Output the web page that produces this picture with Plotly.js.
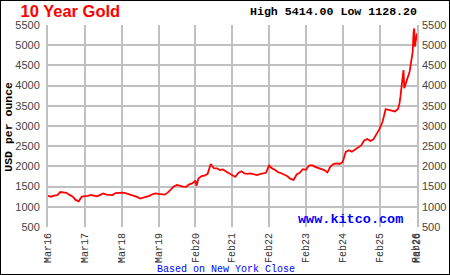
<!DOCTYPE html>
<html>
<head>
<meta charset="utf-8">
<script src="https://cdn.plot.ly/plotly-3.0.1.min.js"></script>
<style>
html,body{margin:0;padding:0;background:#fff;}
#chart{width:450px;height:275px;box-sizing:border-box;border:1px solid #000;}
</style>
</head>
<body>
<div id="chart"></div>
<script>
// Month index since Mar 2016 (0 = Mar16, 120 = Mar26)
const months = [0,1,2,3,4,5,6,7,8,9,10,11,12,13,14,15,16,17,18,19,20,21,22,23,24,25,26,27,28,29,30,31,32,33,34,35,36,37,38,39,40,41,42,43,44,45,46,47,48,48.4,49,50,51,52,53,54,55,56,57,58,59,60,61,62,63,64,65,66,67,68,69,70,71,72,73,74,75,76,77,78,79,80,81,82,83,84,85,86,87,88,89,90,91,92,93,94,95,96,97,98,99,100,101,102,103,104,105,106,107,108,109,110,111,112,113,114,114.5,114.8,115.3,115.8,116.05,116.6,117.1,117.8,118.4,118.8,119.1,119.3,119.5,119.9,120.2];
// Gold price, USD per ounce
const prices = [1270,1250,1275,1290,1365,1355,1345,1295,1255,1170,1135,1250,1255,1270,1292,1285,1260,1295,1330,1300,1292,1290,1340,1352,1350,1345,1320,1300,1280,1245,1205,1225,1250,1270,1310,1330,1318,1300,1300,1350,1440,1505,1540,1515,1499,1495,1555,1578,1650,1520,1700,1760,1770,1815,2060,1955,1953,1911,1925,1875,1825,1770,1740,1840,1880,1825,1815,1828,1812,1787,1810,1825,1842,2020,1950,1911,1855,1830,1795,1755,1690,1665,1800,1840,1930,1915,2020,2030,1990,1965,1945,1910,1850,1993,2058,2075,2060,2110,2360,2400,2365,2420,2480,2520,2640,2680,2630,2670,2800,2930,3110,3420,3396,3380,3360,3420,3560,3725,4015,4386,3933,4097,4180,4345,4592,4840,5333,5414,4963,5128,5293];
const tickPos = [0,12,24,36,48,60,72,84,96,108,119.95,120];
const tickLabels = ['Mar16','Mar17','Mar18','Mar19','Feb20','Feb21','Feb22','Feb23','Feb24','Feb25','Feb26','Mar26'];
const yTicks = [500,1000,1500,2000,2500,3000,3500,4000,4500,5000,5500];
const titleText = '10 Year Gold';
const highLowText = 'High 5414.00 Low 1128.20';
const yTitle = 'USD per ounce';
const siteText = 'www.kitco.com';
const footText = 'Based on New York Close';

const W = 448, H = 273;
const M = {l:47, r:32, t:24, b:47};
const PW = W - M.l - M.r, PH = H - M.t - M.b;
const px = x => (x - M.l) / PW;
const py = y => (H - M.b - y) / PH;

const mono = 'Liberation Mono, Courier New, monospace';
const sans = 'Liberation Sans, Arial, sans-serif';

const traces = [
  {x: months, y: prices, type:'scatter', mode:'lines', line:{color:'#ff0000', width:1.8}, hoverinfo:'skip', showlegend:false},
  {x: [], y: [], type:'scatter', mode:'lines', yaxis:'y2', showlegend:false}
];

const yCommon = {
  range:[500,5500], tickvals:yTicks, ticktext:yTicks.map(String),
  tickfont:{family:sans, size:11, color:'#444'}, ticks:'', zeroline:false, fixedrange:true
};

const layout = {
  width:W, height:H, margin:M,
  paper_bgcolor:'#fff', plot_bgcolor:'#fff',
  showlegend:false,
  title:{text:titleText, font:{family:sans, size:16.5, color:'#ff0000', weight:'bold'},
         xref:'container', yref:'container', x:19.5/W, xanchor:'left', y:1-10/H, yanchor:'middle'},
  xaxis:{range:[0,120.2], tickvals:tickPos, ticktext:tickLabels, tickangle:-90,
         tickfont:{family:mono, size:10, color:'#333'}, ticks:'', ticklabelstandoff:3,
         showgrid:true, gridcolor:'#c0c0c0', gridwidth:2, zeroline:false, showline:false, fixedrange:true},
  yaxis:Object.assign({}, yCommon, {side:'left', showgrid:true, gridcolor:'#c0c0c0', gridwidth:2,
         showline:true, linecolor:'#c0c0c0', linewidth:2, mirror:true, ticklabelstandoff:4}),
  yaxis2:Object.assign({}, yCommon, {side:'right', overlaying:'y', showgrid:false, showline:false, ticklabelstandoff:4}),
  annotations:[
    {text:highLowText, xref:'paper', yref:'paper', x:px(418), y:py(10.7), xanchor:'right', yanchor:'middle',
     showarrow:false, font:{family:mono, size:11.6, color:'#000', weight:'bold'}},
    {text:yTitle, xref:'paper', yref:'paper', x:px(8), y:py(125.7), xanchor:'center', yanchor:'middle',
     textangle:-90, showarrow:false, font:{family:mono, size:11.5, color:'#000', weight:'bold'}},
    {text:siteText, xref:'paper', yref:'paper', x:px(404), y:py(218), xanchor:'right', yanchor:'middle',
     showarrow:false, font:{family:mono, size:13.5, color:'#0000ff', weight:'bold'}},
    {text:footText, xref:'paper', yref:'paper', x:px(225.3), y:py(268), xanchor:'center', yanchor:'middle',
     showarrow:false, font:{family:mono, size:10, color:'#0000ff'}}
  ]
};

Plotly.newPlot('chart', traces, layout, {staticPlot:true, displayModeBar:false});
</script>
</body>
</html>
